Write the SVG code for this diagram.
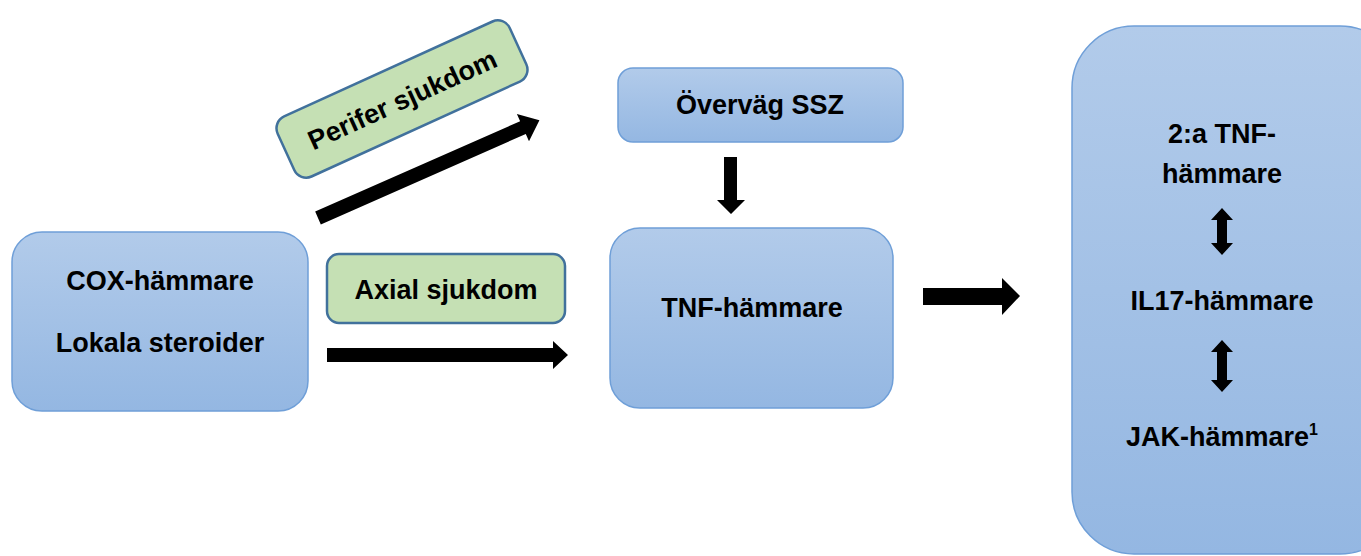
<svg xmlns="http://www.w3.org/2000/svg" width="1361" height="556" viewBox="0 0 1361 556">
  <defs>
    <linearGradient id="blueGrad" x1="0" y1="0" x2="0" y2="1">
      <stop offset="0" stop-color="#b2cbea"/>
      <stop offset="1" stop-color="#94b7e2"/>
    </linearGradient>
    <style>
      .blue { fill: url(#blueGrad); stroke: #6f9fd8; stroke-width: 1.5; }
      .green { fill: #c5e0b4; stroke: #41719c; stroke-width: 2.5; }
      .lbl { font-family: "Liberation Sans", Arial, sans-serif; font-weight: bold; font-size: 27px; fill: #000; text-anchor: middle; }
      .arrow { fill: #000; }
    </style>
  </defs>
  <rect width="1361" height="556" fill="#ffffff"/>

  <g id="node-cox">
    <rect class="blue" x="12" y="232" width="296" height="179" rx="30" ry="30"/>
    <text class="lbl" x="160" y="290">COX-hämmare</text>
    <text class="lbl" x="160" y="352">Lokala steroider</text>
  </g>

  <g id="node-perifer" transform="translate(402,99) rotate(-24.5)">
    <rect class="green" x="-127.5" y="-33" width="255" height="66" rx="13" ry="13"/>
    <text class="lbl" x="0" y="10">Perifer sjukdom</text>
  </g>

  <g id="node-axial">
    <rect class="green" x="327" y="254" width="238" height="69" rx="12" ry="12"/>
    <text class="lbl" x="446" y="299">Axial sjukdom</text>
  </g>

  <g id="node-ssz">
    <rect class="blue" x="618" y="68" width="285" height="74" rx="15" ry="15"/>
    <text class="lbl" x="760" y="114">Överväg SSZ</text>
  </g>

  <g id="node-tnf">
    <rect class="blue" x="610" y="228" width="283" height="180" rx="30" ry="30"/>
    <text class="lbl" x="752" y="317">TNF-hämmare</text>
  </g>

  <g id="node-next">
    <rect class="blue" x="1072" y="26" width="330" height="528" rx="62" ry="62"/>
    <text class="lbl" x="1222" y="143">2:a TNF-</text>
    <text class="lbl" x="1222" y="183">hämmare</text>
    <text class="lbl" x="1222" y="310">IL17-hämmare</text>
    <text class="lbl" x="1222" y="446">JAK-hämmare<tspan font-size="16" dy="-11">1</tspan></text>
  </g>

  <g id="connectors">
    <polygon class="arrow" transform="translate(318,218) rotate(-23.8)" points="0,-7 224,-7 224,-15 242,0 224,15 224,7 0,7"/>
    <polygon class="arrow" points="327,348 553,348 553,341 568,355 553,369 553,362 327,362"/>
    <polygon class="arrow" points="724,157 737,157 737,200 745,200 731,214 717,200 724,200"/>
    <polygon class="arrow" points="923,288 1002,288 1002,278 1020,296 1002,315 1002,305 923,305"/>
    <polygon class="arrow" points="1222,208 1233,220 1227,220 1227,243 1233,243 1222,255 1211,243 1217,243 1217,220 1211,220"/>
    <polygon class="arrow" points="1222,340 1233,352 1227,352 1227,380 1233,380 1222,392 1211,380 1217,380 1217,352 1211,352"/>
  </g>
</svg>
